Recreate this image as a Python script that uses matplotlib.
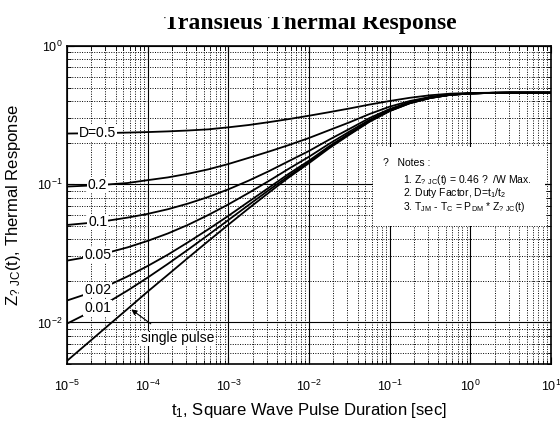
import numpy as np
import matplotlib.pyplot as plt
from matplotlib.patches import Rectangle
import matplotlib.ticker as ticker

plt.rcParams['font.family'] = ['Liberation Sans', 'DejaVu Sans']
plt.rcParams['mathtext.default'] = 'regular'
plt.rcParams['axes.unicode_minus'] = False

# pulse duration, log10(sec)
log_t = [-5.0, -4.75, -4.5, -4.25, -4.0, -3.75, -3.5, -3.25, -3.0, -2.75, -2.5, -2.25,
         -2.0, -1.75, -1.5, -1.25, -1.0, -0.75, -0.5, -0.25, 0.0, 0.25, 0.5, 0.75, 1.0]

z_single = [0.00527, 0.00703, 0.00938, 0.0125, 0.0167, 0.0221, 0.0293, 0.0387, 0.0509, 0.0667, 0.0867, 0.112,
            0.142, 0.182, 0.228, 0.283, 0.338, 0.385, 0.420, 0.443, 0.453, 0.458, 0.46, 0.46, 0.46]
z_d001 = [0.0098, 0.0116, 0.0139, 0.0170, 0.0211, 0.0265, 0.0336, 0.0429, 0.0550, 0.0706, 0.0904, 0.115,
          0.145, 0.185, 0.230, 0.285, 0.339, 0.386, 0.420, 0.443, 0.453, 0.458, 0.46, 0.46, 0.46]
z_d002 = [0.0144, 0.0161, 0.0184, 0.0215, 0.0256, 0.0309, 0.0380, 0.0471, 0.0590, 0.0746, 0.0942, 0.119,
          0.148, 0.188, 0.233, 0.287, 0.340, 0.387, 0.421, 0.443, 0.453, 0.458, 0.46, 0.46, 0.46]
z_d005 = [0.0280, 0.0297, 0.0319, 0.0349, 0.0389, 0.0440, 0.0508, 0.0598, 0.0714, 0.0864, 0.1054, 0.1294,
          0.158, 0.196, 0.240, 0.292, 0.344, 0.389, 0.422, 0.444, 0.453, 0.458, 0.46, 0.46, 0.46]
z_d01 = [0.0507, 0.0523, 0.0544, 0.0573, 0.0610, 0.0659, 0.0724, 0.0808, 0.0918, 0.106, 0.124, 0.147,
         0.174, 0.210, 0.251, 0.301, 0.350, 0.393, 0.424, 0.445, 0.454, 0.458, 0.46, 0.46, 0.46]
z_d02 = [0.0962, 0.0976, 0.0995, 0.102, 0.107, 0.112, 0.119, 0.128, 0.140, 0.155, 0.172, 0.192,
         0.216, 0.246, 0.280, 0.322, 0.364, 0.400, 0.428, 0.446, 0.454, 0.458, 0.46, 0.46, 0.46]
z_d05 = [0.2326, 0.2335, 0.2347, 0.2363, 0.2384, 0.2411, 0.2447, 0.2494, 0.258, 0.268, 0.281, 0.296,
         0.313, 0.332, 0.353, 0.377, 0.400, 0.422, 0.440, 0.452, 0.457, 0.459, 0.46, 0.46, 0.46]

curves = [z_d05, z_d02, z_d01, z_d005, z_d002, z_d001, z_single]
labels = ['D=0.5', '0.2', '0.1', '0.05', '0.02', '0.01', None]

t = 10.0 ** np.array(log_t)

fig = plt.figure(figsize=(5.6, 4.26), dpi=100)
ax = fig.add_axes([0.1196, 0.1455, 0.8643, 0.7465])

for z in curves:
    ax.plot(t, z, color='black', lw=1.3, zorder=3)

ax.set_xscale('log')
ax.set_yscale('log')
ax.set_xlim(1e-5, 10)
ax.set_ylim(0.005, 1)

ax.xaxis.set_minor_locator(ticker.LogLocator(base=10, subs=np.arange(2, 10)))
ax.yaxis.set_minor_locator(ticker.LogLocator(base=10, subs=np.arange(2, 10)))
ax.xaxis.set_minor_formatter(ticker.NullFormatter())
ax.yaxis.set_minor_formatter(ticker.NullFormatter())

ax.grid(which='major', color='black', lw=0.8, ls='-', zorder=1)
ax.grid(which='minor', color='black', lw=0.7, ls=(0, (1, 1.5)), zorder=1)

ax.tick_params(which='both', direction='in', top=True, right=True, labelsize=9)
ax.tick_params(which='major', length=5)
ax.tick_params(which='minor', length=3)
ax.tick_params(axis='x', pad=11)
ax.tick_params(axis='y', pad=3)
for sp in ax.spines.values():
    sp.set_linewidth(1.2)

# curve labels with white boxes
lab_x = 10 ** -4.62
for z, lab in zip(curves, labels):
    if lab is None:
        continue
    yv = 10 ** np.interp(-4.62, log_t, np.log10(z))
    ax.text(lab_x, yv, lab, fontsize=10, ha='center', va='center', zorder=5,
            bbox=dict(facecolor='white', edgecolor='none', pad=0.5))

ax.text(10 ** -4.08, 10 ** -2.115, 'single pulse', fontsize=10, ha='left', va='center', zorder=5,
        bbox=dict(facecolor='white', edgecolor='none', pad=0.5))
ax.annotate('', xy=(10 ** -4.23, 10 ** -1.894), xytext=(10 ** -3.934, 10 ** -2.022),
            arrowprops=dict(arrowstyle='-|>', color='black', lw=0.8, mutation_scale=8), zorder=5)

# notes box
ax.add_patch(Rectangle((0.632, 0.434), 0.356, 0.248, transform=ax.transAxes,
                       facecolor='white', edgecolor='none', zorder=4))
ax.text(0.653, 0.632, '?   Notes :', transform=ax.transAxes, fontsize=7.5, va='center', zorder=5)
ax.text(0.694, 0.579, '1. Z$_{?\\ JC}$(t) = 0.46 ?  /W Max.', transform=ax.transAxes, fontsize=7.5, va='center', zorder=5)
ax.text(0.694, 0.538, '2. Duty Factor, D=t$_1$/t$_2$', transform=ax.transAxes, fontsize=7.5, va='center', zorder=5)
ax.text(0.694, 0.494, '3. T$_{JM}$ - T$_C$ = P$_{DM}$ * Z$_{?\\ JC}$(t)', transform=ax.transAxes, fontsize=7.5, va='center', zorder=5)

ax.set_xlabel('t$_1$, Square Wave Pulse Duration [sec]', fontsize=12, labelpad=5)
ax.set_ylabel('Z$_{?\\ JC}$(t), Thermal Response', fontsize=12, labelpad=10)

fig.text(0.5536, 1 - 28.5 / 426, 'Transieus Thermal Response', ha='center', va='baseline',
         fontsize=17, fontweight='bold', family='Liberation Serif')
# top of the title is cut off in the original
fig.add_artist(Rectangle((0, 1 - 16.5 / 426), 1, 16.5 / 426, transform=fig.transFigure,
                         facecolor='white', edgecolor='none', zorder=10))

fig.savefig('out.png', dpi=100)
